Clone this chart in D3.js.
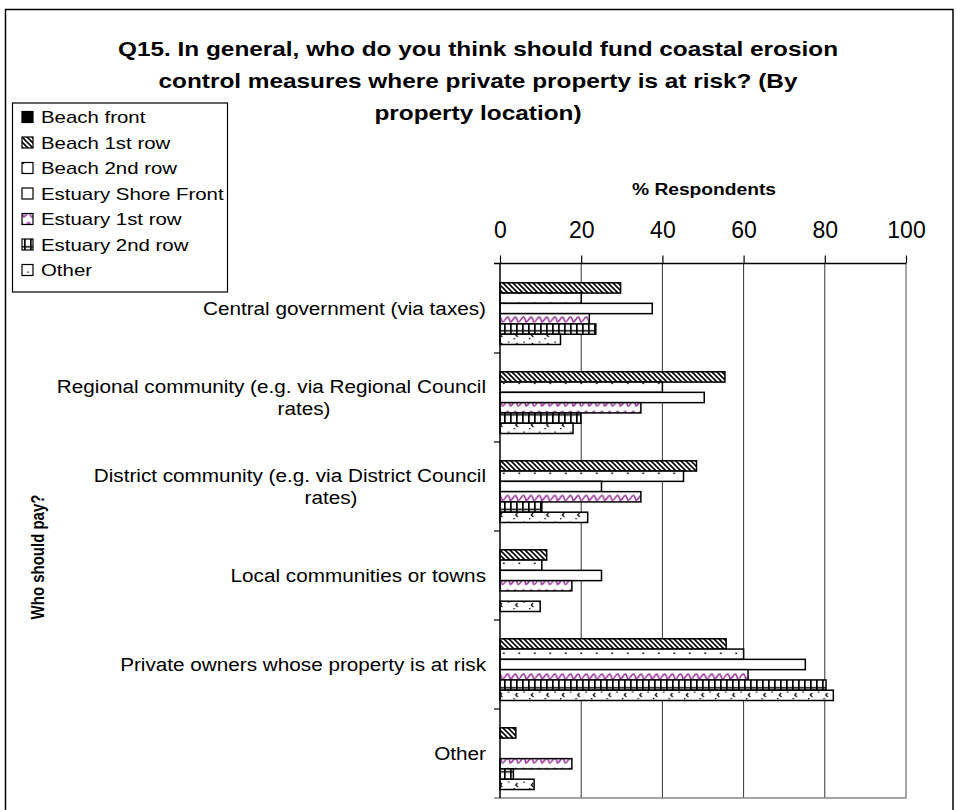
<!DOCTYPE html>
<html>
<head>
<meta charset="utf-8">
<script src="https://cdn.jsdelivr.net/npm/d3@7"></script>
<style>
  html, body { margin: 0; padding: 0; background: #fff; }
  svg { display: block; font-family: "Liberation Sans", Arial, sans-serif; }
</style>
</head>
<body>
<svg id="chart" width="956" height="810"></svg>
<script>
// Survey answers: who should pay for coastal erosion control (% of respondents)
const categories = [
  "Central government (via taxes)",
  "Regional community (e.g. via Regional Council rates)",
  "District community (e.g. via District Council rates)",
  "Local communities or towns",
  "Private owners whose property is at risk",
  "Other"
];
const categoryLines = [
  ["Central government (via taxes)"],
  ["Regional community (e.g. via Regional Council", "rates)"],
  ["District community (e.g. via District Council", "rates)"],
  ["Local communities or towns"],
  ["Private owners whose property is at risk"],
  ["Other"]
];
const seriesNames = ["Beach front", "Beach 1st row", "Beach 2nd row", "Estuary Shore Front",
                     "Estuary 1st row", "Estuary 2nd row", "Other"];

const beachFront        = [0, 0, 0, 0, 0, 0];
const beach1stRow       = [29.7, 55.4, 48.4, 11.5, 55.7, 3.9];
const beach2ndRow       = [20.0, 40.0, 45.2, 10.3, 60.0, 0];
const estuaryShoreFront = [37.5, 50.3, 25.0, 25.0, 75.2, 0];
const estuary1stRow     = [22.0, 34.7, 34.7, 17.7, 61.1, 17.7];
const estuary2ndRow     = [23.6, 19.9, 10.3, 0, 80.3, 3.3];
const otherLocation     = [14.9, 18.0, 21.6, 9.9, 82.1, 8.4];

const xTicks = [0, 20, 40, 60, 80, 100];

const seriesValues = [beachFront, beach1stRow, beach2ndRow, estuaryShoreFront,
                      estuary1stRow, estuary2ndRow, otherLocation];

const svg = d3.select("#chart");
const defs = svg.append("defs");

// Widen a text element's glyphs horizontally by a factor (the chart's lettering is broad)
function widen(sel, factor) {
  sel.each(function () {
    const len = this.getComputedTextLength();
    d3.select(this).attr("textLength", len * factor).attr("lengthAdjust", "spacingAndGlyphs");
  });
  return sel;
}

// ---- fill patterns ----
function pat(id, w, h) {
  const p = defs.append("pattern").attr("id", id)
    .attr("patternUnits", "userSpaceOnUse").attr("width", w).attr("height", h);
  p.append("rect").attr("width", w).attr("height", h).attr("fill", "#fff");
  return p;
}
// diagonal hatch
{
  const p = pat("hatch", 5, 5);
  p.append("path").attr("d", "M-1,-1 L6,6 M-1,4 L1,6 M4,-1 L6,1")
    .attr("stroke", "#000").attr("stroke-width", 1.6);
}
// sparse dots
{
  const p = pat("dots", 15.5, 10);
  p.append("rect").attr("x", 7).attr("y", 2.5).attr("width", 1.6).attr("height", 1.6).attr("fill", "#000");
}
// purple wave
{
  const p = pat("wave", 15.7, 10.5);
  p.append("path").attr("d", "M0,7 C2.6,7 3.3,2 5.2,2 C7.1,2 7.8,7 7.85,7 C10.4,7 11,2 13,2 C14.5,2 15.2,7 15.7,7")
    .attr("fill", "none").attr("stroke", "#993399").attr("stroke-width", 1.6);
}
// grid (ladder)
{
  const p = pat("grid", 6, 10.5);
  p.append("rect").attr("x", 0).attr("y", 0).attr("width", 1.7).attr("height", 10.5).attr("fill", "#000");
  p.append("rect").attr("x", 0).attr("y", 4.6).attr("width", 6).attr("height", 1.5).attr("fill", "#000");
}
// small chevron marks
{
  const p = pat("chev", 15.5, 10);
  p.append("path").attr("d", "M6,3 L4.3,5 L6.3,7").attr("fill", "none")
    .attr("stroke", "#000").attr("stroke-width", 1.2);
  p.append("rect").attr("x", 12).attr("y", 1.5).attr("width", 1.3).attr("height", 1.3).attr("fill", "#000");
  p.append("rect").attr("x", 2).attr("y", 8).attr("width", 1.3).attr("height", 1.3).attr("fill", "#000");
}
const fills = ["#000", "url(#hatch)", "url(#dots)", "#fff", "url(#wave)", "url(#grid)", "url(#chev)"];

// ---- outer frame ----
svg.append("rect").attr("x", 5.5).attr("y", 9.5).attr("width", 947.5).attr("height", 830)
  .attr("fill", "none").attr("stroke", "#000").attr("stroke-width", 1.5);

// ---- title ----
const titleLines = ["Q15. In general, who do you think should fund coastal erosion",
                    "control measures where private property is at risk? (By",
                    "property location)"];
widen(svg.append("g").selectAll("text").data(titleLines).join("text")
  .attr("x", 478).attr("y", (d, i) => 56 + i * 32)
  .attr("text-anchor", "middle").attr("font-size", 21).attr("font-weight", "bold")
  .text(d => d), 1.16);

// ---- scales ----
const plot = { left: 500, right: 906, top: 264, bottom: 798 };
const x = d3.scaleLinear().domain([0, 100]).range([plot.left, plot.right]);
const y = d3.scaleBand().domain(categories).range([plot.top, plot.bottom]).padding(0);
const ySub = d3.scaleBand().domain(seriesNames).range([8.5, y.bandwidth() - 8.5]).padding(0);

// ---- gridlines ----
svg.append("g").selectAll("line").data(xTicks.filter(t => t > 0 && t < 100)).join("line")
  .attr("x1", d => x(d)).attr("x2", d => x(d))
  .attr("y1", plot.top).attr("y2", plot.bottom)
  .attr("stroke", "#333").attr("stroke-width", 1);
// plot border (right / bottom)
svg.append("path")
  .attr("d", `M${x(100)},${plot.top} V${plot.bottom} H${plot.left - 6}`)
  .attr("fill", "none").attr("stroke", "#888").attr("stroke-width", 1.5);

// ---- bars ----
const barData = [];
categories.forEach((c, ci) => {
  seriesNames.forEach((s, si) => {
    barData.push({ cat: c, series: s, si, value: seriesValues[si][ci] });
  });
});
svg.append("g").selectAll("rect").data(barData.filter(d => d.value > 0)).join("rect")
  .attr("x", x(0))
  .attr("y", d => y(d.cat) + ySub(d.series))
  .attr("width", d => x(d.value) - x(0))
  .attr("height", ySub.bandwidth())
  .attr("fill", d => fills[d.si])
  .attr("stroke", "#000").attr("stroke-width", 1.5);

// ---- top value axis ----
const xAxis = d3.axisTop(x).tickValues(xTicks).tickSizeInner(8).tickSizeOuter(0).tickPadding(18);
const gx = svg.append("g").attr("transform", `translate(0,${plot.top - 0.5})`).call(xAxis);
gx.select(".domain").remove();
gx.selectAll(".tick line").attr("stroke", "#000").attr("stroke-width", 1.2);
gx.selectAll(".tick text").attr("font-size", 23).attr("fill", "#000")
  .attr("font-family", "Liberation Sans, Arial, sans-serif");
svg.append("line").attr("x1", plot.left - 6).attr("x2", x(100))
  .attr("y1", plot.top - 0.5).attr("y2", plot.top - 0.5)
  .attr("stroke", "#000").attr("stroke-width", 1.5);

widen(svg.append("text").attr("x", 704).attr("y", 195).attr("text-anchor", "middle")
  .attr("font-size", 16).attr("font-weight", "bold").text("% Respondents"), 1.2);

// ---- category axis ----
svg.append("line").attr("x1", plot.left).attr("x2", plot.left)
  .attr("y1", plot.top).attr("y2", plot.bottom)
  .attr("stroke", "#000").attr("stroke-width", 1.5);
svg.append("g").selectAll("line").data(categories.slice(1)).join("line")
  .attr("x1", plot.left - 6).attr("x2", plot.left)
  .attr("y1", d => y(d)).attr("y2", d => y(d))
  .attr("stroke", "#000").attr("stroke-width", 1.2);

const secondLineCenter = [0, 304, 331, 0, 0, 0];
const catG = svg.append("g").attr("font-size", 18);
categories.forEach((c, ci) => {
  const lines = categoryLines[ci];
  const cy = y(c) + y.bandwidth() / 2;
  const lh = 22;
  lines.forEach((ln, li) => {
    const yy = cy + (li - (lines.length - 1) / 2) * lh + 6;
    const t = catG.append("text")
      .attr("x", li === 0 ? 486 : secondLineCenter[ci])
      .attr("y", yy).attr("text-anchor", li === 0 ? "end" : "middle").text(ln);
    widen(t, 1.15);
  });
});

svg.append("text").attr("transform", "translate(44,557) scale(1.2,1) rotate(-90)")
  .attr("text-anchor", "middle").attr("font-size", 15).attr("font-weight", "bold")
  .text("Who should pay?");

// ---- legend ----
const lg = svg.append("g");
lg.append("rect").attr("x", 12.5).attr("y", 103).attr("width", 215).attr("height", 189)
  .attr("fill", "#fff").attr("stroke", "#000").attr("stroke-width", 1.2);
seriesNames.forEach((s, si) => {
  const cy = 117 + si * 25.5;
  lg.append("rect").attr("x", 22).attr("y", cy - 5.5).attr("width", 11).attr("height", 11)
    .attr("fill", fills[si]).attr("stroke", "#000").attr("stroke-width", 1.2);
  widen(lg.append("text").attr("x", 41).attr("y", cy + 6).attr("font-size", 17).text(s), 1.2);
});
</script>
</body>
</html>
